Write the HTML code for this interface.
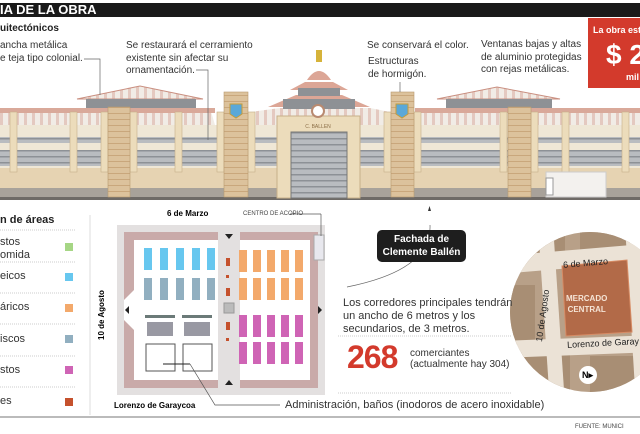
<!DOCTYPE html>
<html><head><meta charset="utf-8"><style>
body{margin:0;width:640px;height:434px;overflow:hidden;background:#fff;font-family:"Liberation Sans",Arial,sans-serif;position:relative}
.a{position:absolute;white-space:nowrap}
.t{font-size:11px;color:#333;line-height:13px}
.s{font-size:10px;color:#333;line-height:12.5px}
</style></head><body>
<svg class="a" style="left:0;top:0" width="640" height="434" viewBox="0 0 640 434">
<defs>
<pattern id="st" width="8" height="10" patternUnits="userSpaceOnUse"><rect width="8" height="10" fill="#f1ece6"/><rect width="3" height="10" fill="#e4c9c0"/></pattern>
<pattern id="gr" width="6" height="6" patternUnits="userSpaceOnUse"><rect width="6" height="6" fill="#b9bcc0"/><rect width="6" height="1.5" fill="#8d9196"/></pattern>
<pattern id="br" width="10" height="6" patternUnits="userSpaceOnUse"><rect width="10" height="6" fill="#dcc29c"/><rect y="5" width="10" height="1" fill="#c9a77c"/></pattern>
</defs>
<rect x="0" y="3" width="640" height="14" fill="#1a1a1a"/>
<polygon points="77,99 140,86 203,99" fill="url(#st)" stroke="#c98f80"/>
<rect x="86" y="99" width="110" height="10" fill="#8e9195"/>
<polygon points="0,112 70,108 210,108 215,125 0,125" fill="url(#st)"/>
<rect x="0" y="108" width="215" height="5" fill="#d9a99a"/>
<polygon points="437,99 497,87 560,99" fill="url(#st)" stroke="#c98f80"/>
<rect x="446" y="99" width="106" height="10" fill="#8e9195"/>
<polygon points="415,108 640,108 640,125 415,125" fill="url(#st)"/>
<rect x="415" y="108" width="225" height="5" fill="#d9a99a"/>
<polygon points="250,112 280,108 370,108 390,112 390,125 250,125" fill="url(#st)"/>
<rect x="0" y="125" width="640" height="45" fill="#efe7d6"/>
<rect x="0" y="137" width="640" height="6" fill="url(#gr)"/>
<rect x="0" y="150" width="640" height="16" fill="url(#gr)"/>
<rect x="0" y="168" width="640" height="22" fill="#e6d3b2"/>
<rect x="0" y="188" width="640" height="10" fill="#a8a29a"/>
<rect x="0" y="197" width="640" height="3" fill="#6e6a66"/>
<g fill="#ecdcbb" stroke="#c7b089" stroke-width=".6">
<rect x="10" y="112" width="7" height="60"/><rect x="70" y="112" width="7" height="60"/><rect x="101" y="112" width="7" height="60"/><rect x="130" y="112" width="7" height="60"/><rect x="175" y="112" width="7" height="60"/><rect x="217" y="112" width="7" height="60"/><rect x="248" y="112" width="7" height="60"/>
<rect x="384" y="112" width="7" height="60"/><rect x="414" y="112" width="7" height="60"/><rect x="500" y="112" width="7" height="60"/><rect x="531" y="112" width="7" height="60"/><rect x="562" y="112" width="7" height="60"/><rect x="622" y="112" width="7" height="60"/>
</g>
<rect x="108" y="107" width="22" height="90" fill="url(#br)" stroke="#b89a70" stroke-width=".6"/>
<rect x="224" y="92" width="24" height="105" fill="url(#br)" stroke="#b89a70" stroke-width=".6"/>
<rect x="391" y="92" width="23" height="105" fill="url(#br)" stroke="#b89a70" stroke-width=".6"/>
<rect x="508" y="107" width="23" height="90" fill="url(#br)" stroke="#b89a70" stroke-width=".6"/>
<path d="M230 104h12v10l-6 4-6-4z" fill="#5aa8d8" stroke="#c59c3a"/>
<path d="M396 104h12v10l-6 4-6-4z" fill="#5aa8d8" stroke="#c59c3a"/>
<rect x="546" y="172" width="60" height="25" fill="#f3f1ee" stroke="#ccc"/>
<rect x="546" y="178" width="7" height="17" fill="#fff" stroke="#999"/>
<polygon points="268,107 296,95 342,95 370,107" fill="#dca696"/>
<rect x="283" y="99" width="72" height="10" fill="#8e9195"/>
<polygon points="290,90 305,82 333,82 348,90" fill="#dca696"/>
<rect x="298" y="88" width="42" height="8" fill="#8e9195"/>
<path d="M307 80 Q319 62 331 80z" fill="#dca696"/>
<rect x="316" y="50" width="6" height="12" fill="#d6b33a"/>
<rect x="277" y="116" width="83" height="82" fill="#ecdcbb" stroke="#c7b089"/>
<circle cx="318" cy="111" r="6" fill="#fff" stroke="#b98a70" stroke-width="2"/>
<rect x="291" y="132" width="56" height="66" fill="url(#gr)" stroke="#777"/>
<text x="318" y="128" font-size="5" text-anchor="middle" fill="#8a6d45" font-family="Liberation Sans">C. BALLEN</text>
<line x1="90" y1="215" x2="90" y2="415" stroke="#ddd"/>
<line x1="0" y1="417" x2="640" y2="417" stroke="#bbb" stroke-width="2"/>
<g stroke="#ccc" stroke-dasharray="1,1"><line x1="0" y1="230" x2="75" y2="230"/><line x1="0" y1="262" x2="75" y2="262"/><line x1="0" y1="293" x2="75" y2="293"/><line x1="0" y1="324" x2="75" y2="324"/><line x1="0" y1="356" x2="75" y2="356"/><line x1="0" y1="387" x2="75" y2="387"/>
<line x1="338" y1="336" x2="512" y2="336"/><line x1="338" y1="393" x2="512" y2="393"/></g>
<rect x="65" y="243" width="8" height="8" fill="#a6d685"/>
<rect x="65" y="273" width="8" height="8" fill="#67c7ef"/>
<rect x="65" y="304" width="8" height="8" fill="#f3a96b"/>
<rect x="65" y="335" width="8" height="8" fill="#91afc0"/>
<rect x="65" y="366" width="8" height="8" fill="#cf64b5"/>
<rect x="65" y="398" width="8" height="8" fill="#c5512d"/>
<rect x="117" y="225" width="208" height="170" fill="#e3e0e0"/>
<rect x="124" y="232" width="194" height="156" fill="#c9aaa9"/>
<rect x="134" y="240" width="176" height="140" fill="#fff"/>
<rect x="218" y="232" width="22" height="156" fill="#e3e0e0"/>
<polygon points="124,300 134,290 134,330 124,320" fill="#fff"/>
<g fill="#67c7ef">
<rect x="144" y="248" width="8" height="22"/><rect x="160" y="248" width="8" height="22"/><rect x="176" y="248" width="8" height="22"/><rect x="192" y="248" width="8" height="22"/><rect x="207" y="248" width="8" height="22"/></g>
<g fill="#91afc0">
<rect x="144" y="278" width="8" height="22"/><rect x="160" y="278" width="8" height="22"/><rect x="176" y="278" width="8" height="22"/><rect x="192" y="278" width="8" height="22"/><rect x="207" y="278" width="8" height="22"/></g>
<g fill="#f3a96b">
<rect x="239" y="250" width="8" height="22"/><rect x="253" y="250" width="8" height="22"/><rect x="267" y="250" width="8" height="22"/><rect x="281" y="250" width="8" height="22"/><rect x="295" y="250" width="8" height="22"/>
<rect x="239" y="278" width="8" height="22"/><rect x="253" y="278" width="8" height="22"/><rect x="267" y="278" width="8" height="22"/><rect x="281" y="278" width="8" height="22"/><rect x="295" y="278" width="8" height="22"/></g>
<g fill="#cf64b5">
<rect x="239" y="315" width="8" height="22"/><rect x="253" y="315" width="8" height="22"/><rect x="267" y="315" width="8" height="22"/><rect x="281" y="315" width="8" height="22"/><rect x="295" y="315" width="8" height="22"/>
<rect x="239" y="342" width="8" height="22"/><rect x="253" y="342" width="8" height="22"/><rect x="267" y="342" width="8" height="22"/><rect x="281" y="342" width="8" height="22"/><rect x="295" y="342" width="8" height="22"/></g>
<g fill="#c5512d"><rect x="226" y="258" width="4" height="8"/><rect x="226" y="275" width="3" height="3"/><rect x="226" y="288" width="4" height="8"/><rect x="226" y="322" width="4" height="8"/><rect x="226" y="338" width="3" height="3"/></g>
<rect x="224" y="303" width="10" height="10" fill="#bbb" stroke="#999"/>
<rect x="314" y="235" width="10" height="25" fill="#e8e8ee" stroke="#aaa"/>
<g fill="#6b7a78"><rect x="145" y="315" width="30" height="3"/><rect x="182" y="315" width="30" height="3"/></g>
<g fill="#556"><rect x="147" y="322" width="26" height="14" opacity=".6"/><rect x="184" y="322" width="26" height="14" opacity=".6"/></g>
<g fill="none" stroke="#555"><rect x="146" y="344" width="29" height="27"/><rect x="183" y="344" width="29" height="27"/></g>
<polyline points="163,364 190,364" stroke="#222" fill="none"/>
<polyline points="190,364 215,405 280,405" stroke="#555" fill="none" stroke-width=".7"/>
<g fill="#222"><polygon points="225,234 233,234 229,239"/><polygon points="225,385 233,385 229,380"/><polygon points="125,310 129,306 129,314"/><polygon points="322,310 318,306 318,314"/></g>
<line x1="290" y1="214" x2="321" y2="214" stroke="#555" stroke-width=".7"/><line x1="321" y1="214" x2="321" y2="236" stroke="#555" stroke-width=".7"/>
<g stroke="#666" stroke-width=".7" fill="none">
<polyline points="84,59 100,59 100,95"/><polyline points="196,70 208,70 208,140"/><polyline points="400,82 400,92"/>
<path d="M430 225 Q432 270 347 287"/></g>
<polygon points="428,211 431,211 429.5,206" fill="#333"/>
<clipPath id="cc"><circle cx="590" cy="312" r="80"/></clipPath>
<g clip-path="url(#cc)">
<rect x="500" y="225" width="180" height="180" fill="#b8a088"/>
<g fill="#a88e74"><rect x="515" y="235" width="50" height="30"/><rect x="580" y="232" width="50" height="22"/><rect x="505" y="285" width="30" height="60"/><rect x="520" y="352" width="50" height="50"/><rect x="590" y="356" width="45" height="40"/></g>
<polygon points="500,256 680,241 680,259 500,274" fill="#ebe2d6"/>
<polygon points="538,225 553,225 565,405 550,405" fill="#ebe2d6"/>
<polygon points="500,341 680,334 680,351 500,358" fill="#ebe2d6"/>
<polygon points="625,225 640,225 650,405 636,405" fill="#ebe2d6"/>
<polygon points="562,266 627,260 632,332 566,336" fill="#b26a48" stroke="#d78b64"/>
</g>
<circle cx="588" cy="375" r="9" fill="#fff"/>
</svg>
<div class="a" style="left:0;top:2px;color:#fff;font-weight:bold;font-size:13px;line-height:15px">IA DE LA OBRA</div>
<div class="a" style="left:0;top:23px;font-weight:bold;font-size:10px;color:#222">uitectónicos</div>
<div class="a s" style="left:0;top:40px">ancha metálica<br>e teja tipo colonial.</div>
<div class="a s" style="left:126px;top:40px">Se restaurará el cerramiento<br>existente sin afectar su<br>ornamentación.</div>
<div class="a s" style="left:367px;top:40px">Se conservará el color.</div>
<div class="a s" style="left:368px;top:56px">Estructuras<br>de hormigón.</div>
<div class="a s" style="left:481px;top:39px">Ventanas bajas y altas<br>de aluminio protegidas<br>con rejas metálicas.</div>
<div class="a" style="left:588px;top:18px;width:52px;height:70px;background:#d33a2c;color:#fff;overflow:hidden">
<div class="a" style="left:5px;top:7px;font-size:9px;font-weight:bold">La obra esta</div>
<div class="a" style="left:18px;top:22px;font-size:28px;font-weight:bold;line-height:30px">$ 2</div>
<div class="a" style="left:38px;top:54px;font-size:9px;font-weight:bold">mil</div></div>
<div class="a" style="left:0;top:214px;font-weight:bold;font-size:11px;color:#222">n de áreas</div>
<div class="a t" style="left:0;top:236px">stos<br>omida</div>
<div class="a t" style="left:0;top:270px">eicos</div>
<div class="a t" style="left:0;top:301px">áricos</div>
<div class="a t" style="left:0;top:333px">iscos</div>
<div class="a t" style="left:0;top:364px">stos</div>
<div class="a t" style="left:0;top:395px">es</div>
<div class="a" style="left:167px;top:209px;font-weight:bold;font-size:8px">6 de Marzo</div>
<div class="a" style="left:243px;top:211px;font-size:6px;color:#444">CENTRO DE ACOPIO</div>
<div class="a" style="left:97px;top:340px;font-weight:bold;font-size:8px;transform:rotate(-90deg);transform-origin:left top">10 de Agosto</div>
<div class="a" style="left:114px;top:401px;font-weight:bold;font-size:8px">Lorenzo de Garaycoa</div>
<div class="a" style="left:285px;top:399px;font-size:11px;color:#333">Administración, baños (inodoros de acero inoxidable)</div>
<div class="a" style="left:377px;top:230px;width:89px;height:32px;background:#1e1e1e;border-radius:5px;color:#fff;font-weight:bold;font-size:10px;text-align:center;line-height:13px;padding-top:3px;box-sizing:border-box">Fachada de<br>Clemente Ballén</div>
<div class="a t" style="left:343px;top:297px">Los corredores principales tendrán<br>un ancho de 6 metros y los<br>secundarios, de 3 metros.</div>
<div class="a" style="left:347px;top:341px;font-size:32px;font-weight:bold;color:#d33a2c;line-height:32px;letter-spacing:-1px">268</div>
<div class="a" style="left:410px;top:348px;font-size:10px;color:#333;line-height:11px">comerciantes<br>(actualmente hay 304)</div>
<div class="a" style="left:563px;top:258px;font-size:9px;color:#222;transform:rotate(-5deg)">6 de Marzo</div>
<div class="a" style="left:534px;top:341px;font-size:9px;color:#222;transform:rotate(-82deg);transform-origin:left top">10 de Agosto</div>
<div class="a" style="left:566px;top:293px;font-size:8px;color:#f5e4d6;font-weight:bold;text-align:center;line-height:11px">MERCADO<br>CENTRAL</div>
<div class="a" style="left:567px;top:338px;font-size:9px;color:#222;transform:rotate(-3deg)">Lorenzo de Garay</div>
<div class="a" style="left:582px;top:370px;font-size:9px;font-weight:bold">N▸</div>
<div class="a" style="left:575px;top:424px;font-size:6px;color:#444">FUENTE: MUNICI</div>
</body></html>
